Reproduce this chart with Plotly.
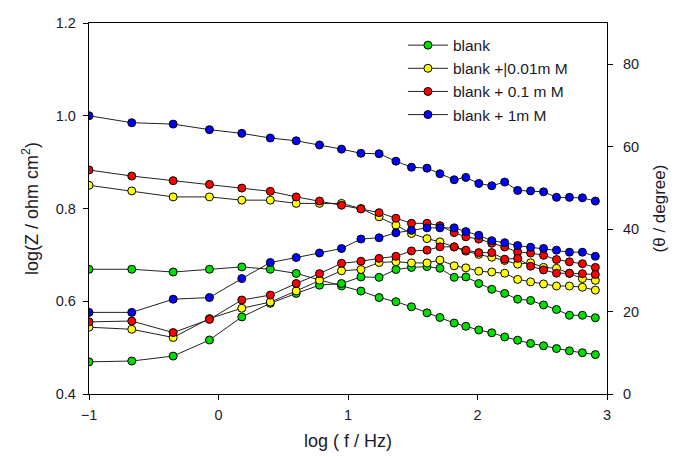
import plotly.graph_objects as go

# log(f / Hz) frequencies
log_f = [-1.00, -0.67, -0.35, -0.07, 0.18, 0.40, 0.60, 0.78, 0.95, 1.10, 1.24, 1.37, 1.49,
         1.61, 1.71, 1.82, 1.91, 2.01, 2.11, 2.21, 2.31, 2.41, 2.51, 2.61, 2.71, 2.81, 2.91]

series_names = ["blank", "blank +|0.01m M", "blank + 0.1 m M", "blank + 1m M"]
series_colors = ["#00DD00", "#FFFF00", "#FF0000", "#0000FF"]

# log(Z / ohm cm2)
logz_blank = [0.669, 0.669, 0.663, 0.669, 0.674, 0.669, 0.660, 0.646, 0.633, 0.622, 0.608, 0.599, 0.588,
              0.575, 0.565, 0.553, 0.546, 0.538, 0.532, 0.523, 0.516, 0.509, 0.504, 0.498, 0.493, 0.489, 0.485]
logz_001 = [0.850, 0.838, 0.825, 0.825, 0.818, 0.818, 0.811, 0.811, 0.811, 0.800, 0.782, 0.764, 0.746,
            0.735, 0.728, 0.717, 0.708, 0.701, 0.695, 0.688, 0.680, 0.683, 0.673, 0.671, 0.660, 0.649, 0.645]
logz_01 = [0.883, 0.870, 0.860, 0.852, 0.844, 0.837, 0.825, 0.816, 0.807, 0.799, 0.791, 0.779, 0.768,
           0.768, 0.763, 0.748, 0.739, 0.734, 0.725, 0.717, 0.706, 0.704, 0.699, 0.690, 0.685, 0.681, 0.673]
logz_1 = [1.000, 0.985, 0.982, 0.970, 0.962, 0.952, 0.946, 0.937, 0.928, 0.919, 0.918, 0.902, 0.889,
          0.887, 0.875, 0.862, 0.867, 0.854, 0.849, 0.857, 0.839, 0.838, 0.836, 0.824, 0.824, 0.823, 0.816]

# phase angle (theta / degree)
theta_blank = [7.8, 8.0, 9.2, 13.1, 18.7, 22.0, 24.4, 26.4, 26.8, 28.4, 28.3, 30.2, 30.7,
               30.9, 30.5, 28.3, 28.4, 26.8, 25.4, 24.4, 23.0, 22.7, 21.6, 20.5, 19.1, 19.1, 18.5]
theta_001 = [16.2, 15.7, 13.7, 18.3, 20.8, 22.3, 25.0, 27.6, 29.9, 30.2, 31.9, 32.1, 31.8,
             31.8, 32.5, 31.1, 30.6, 29.8, 29.6, 29.3, 27.8, 27.2, 26.7, 26.2, 26.2, 25.9, 25.2]
theta_01 = [17.5, 17.7, 14.9, 18.1, 22.8, 24.0, 26.8, 29.2, 31.7, 32.2, 32.9, 33.4, 34.7,
            34.9, 35.7, 35.7, 34.9, 34.3, 34.3, 32.7, 32.9, 31.0, 30.1, 29.3, 29.3, 29.2, 29.0]
theta_1 = [19.8, 19.8, 23.0, 23.4, 28.0, 31.9, 33.1, 34.2, 35.3, 37.6, 37.9, 39.1, 39.7,
           40.3, 40.3, 40.3, 39.4, 38.5, 37.2, 36.7, 36.0, 35.6, 35.3, 34.9, 34.4, 34.4, 33.4]

logz_all = [logz_blank, logz_001, logz_01, logz_1]
theta_all = [theta_blank, theta_001, theta_01, theta_1]

x_ticks = [-1, 0, 1, 2, 3]
y_ticks = [0.4, 0.6, 0.8, 1.0, 1.2]
y2_ticks = [0, 20, 40, 60, 80]

FONT = "Liberation Sans, Arial, sans-serif"
LINE = "#222222"
TXT = "#1a1a2a"

fig = go.Figure()

for name, col, th in zip(series_names, series_colors, theta_all):
    fig.add_trace(go.Scatter(
        x=log_f, y=th, yaxis="y2", mode="lines+markers", name=name, showlegend=False,
        line=dict(color=LINE, width=1),
        marker=dict(size=8, color=col, line=dict(color="black", width=1)),
    ))

for name, col, lz in zip(series_names, series_colors, logz_all):
    fig.add_trace(go.Scatter(
        x=log_f, y=lz, mode="lines+markers", name=name,
        line=dict(color=LINE, width=1),
        marker=dict(size=8, color=col, line=dict(color="black", width=1)),
    ))

axis_common = dict(showgrid=False, zeroline=False, showline=True, linecolor="black", linewidth=1.3,
                   ticks="outside", ticklen=5, tickwidth=1.3, tickcolor="black", automargin=False,
                   tickfont=dict(family=FONT, size=14.5, color=TXT))

fig.update_layout(
    width=679, height=457,
    margin=dict(l=89, r=72, t=23, b=63),
    paper_bgcolor="white", plot_bgcolor="white",
    font=dict(family=FONT, color=TXT),
    xaxis=dict(range=[-1, 3], tickvals=x_ticks, mirror=True, ticklabelstandoff=2,
               title=dict(text="log ( f / Hz)", font=dict(size=18), standoff=12),
               **axis_common),
    yaxis=dict(range=[0.4, 1.2], tickvals=y_ticks, tickformat=".1f", ticklabelstandoff=4,
               title=dict(text="log(Z / ohm cm<sup>2</sup>)", font=dict(size=18), standoff=12),
               **axis_common),
    yaxis2=dict(range=[0, 90], tickvals=y2_ticks, overlaying="y", side="right", ticklabelstandoff=7,
                title=dict(text="(θ / degree)", font=dict(size=17), standoff=14),
                **axis_common),
    legend=dict(x=0.606, y=0.985, xanchor="left", yanchor="top", bgcolor="rgba(0,0,0,0)",
                font=dict(family=FONT, size=15.5), tracegroupgap=0, itemwidth=40),
)

fig.write_html("out.html")
